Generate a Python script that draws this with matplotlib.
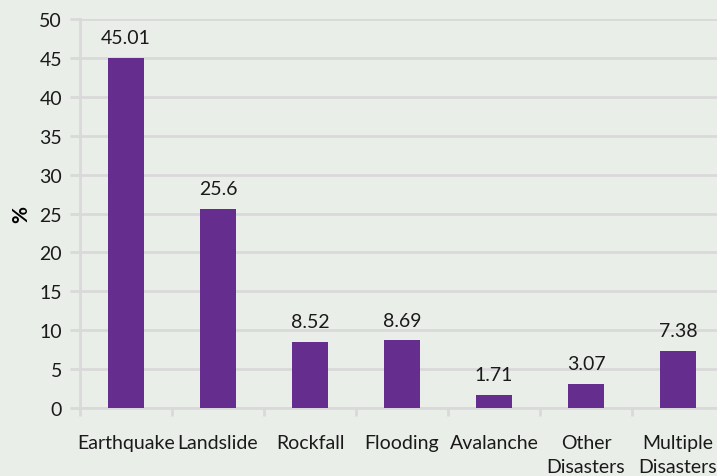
import numpy as np
from matplotlib import pyplot as plt

categories = ["Earthquake", "Landslide", "Rockfall", "Flooding", "Avalanche",
              "Other\nDisasters", "Multiple\nDisasters"]
values = [45.01, 25.6, 8.52, 8.69, 1.71, 3.07, 7.38]
value_labels = ["45.01", "25.6", "8.52", "8.69", "1.71", "3.07", "7.38"]

bg = "#EAEEE9"
bar_color = "#652D8E"
grid_color = "#D9D9D9"

plt.rcParams['font.family'] = ['Lato', 'DejaVu Sans']
plt.rcParams['font.size'] = 14

fig = plt.figure(figsize=(7.17, 4.77), dpi=100, facecolor=bg)
ax = fig.add_axes([80 / 717, 68 / 477, 644 / 717, 389 / 477], facecolor=bg)

x = np.arange(len(categories))
bars = ax.bar(x, values, width=0.40, color=bar_color, zorder=3)

for xi, v, lab in zip(x, values, value_labels):
    ax.text(xi, v + 1.5, lab, ha="center", va="bottom", fontsize=14, color="#1a1a1a")

ax.set_xlim(-0.5, len(categories) - 0.5)
ax.set_ylim(0, 50)
ax.set_yticks(np.arange(0, 51, 5))
ax.yaxis.grid(True, color=grid_color, linewidth=2, zorder=0)

ax.set_xticks(x)
ax.set_xticklabels(categories, color="#1a1a1a", linespacing=1.5)
ax.set_xticks(np.arange(-0.5, len(categories), 1), minor=True)
ax.tick_params(axis="x", which="major", length=0, pad=19)
ax.tick_params(axis="x", which="minor", length=6, width=2, color=grid_color)
ax.tick_params(axis="y", length=7, width=2, color=grid_color, labelcolor="#1a1a1a", pad=6)

for s in ["top", "right"]:
    ax.spines[s].set_visible(False)
for s in ["left", "bottom"]:
    ax.spines[s].set_color(grid_color)
    ax.spines[s].set_linewidth(2)

ax.set_ylabel("%", fontsize=15, fontweight="bold", labelpad=6)

plt.savefig("out.png", dpi=100, facecolor=bg)
